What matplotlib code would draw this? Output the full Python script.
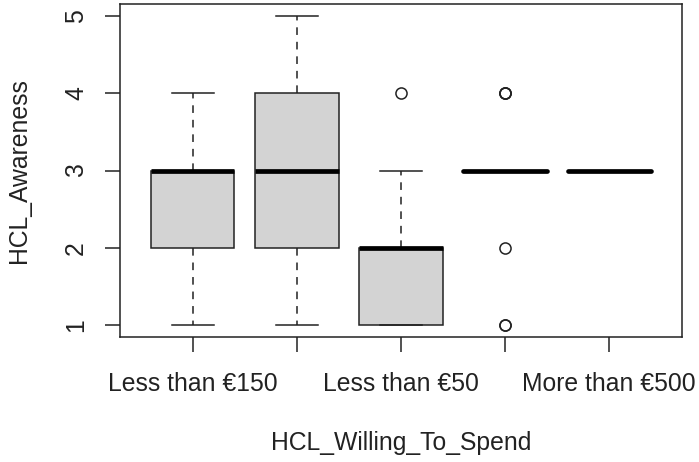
import matplotlib
matplotlib.use("Agg")
import matplotlib.pyplot as plt

plt.rcParams['font.family'] = ['Liberation Sans', 'DejaVu Sans']

# Spending groups (only every other label fits on the axis)
tick_labels = ["Less than €150", "", "Less than €50", "", "More than €500"]

# Five-number summaries per group
whisker_low = [1, 1, 1, 3, 3]
q1 = [2, 2, 1, 3, 3]
median = [3, 3, 2, 3, 3]
q3 = [3, 4, 2, 3, 3]
whisker_high = [4, 5, 3, 3, 3]
outliers = [[], [], [4], [4, 4, 4, 2, 1, 1], []]

stats = []
for i in range(len(median)):
    stats.append(dict(whislo=whisker_low[i], q1=q1[i], med=median[i],
                      q3=q3[i], whishi=whisker_high[i], fliers=outliers[i]))

fig = plt.figure(figsize=(6.99, 4.62), dpi=100)
ax = fig.add_axes([120 / 699, 1 - 337.4 / 462, 562 / 699, 333.8 / 462])

lw = 1.1
fs = 17.8
bp = ax.bxp(stats, positions=range(1, 6), widths=0.8, patch_artist=True,
            showfliers=True,
            boxprops=dict(facecolor='#D3D3D3', edgecolor='#222222', linewidth=lw),
            medianprops=dict(color='black', linewidth=3.4, solid_capstyle='butt'),
            whiskerprops=dict(color='#222222', linewidth=lw, linestyle=(0, (5, 4.5))),
            capprops=dict(color='#222222', linewidth=lw),
            capwidths=0.4,
            flierprops=dict(marker='o', markerfacecolor='none', markeredgecolor='#222222',
                            markersize=8, markeredgewidth=1.1, linestyle='none'))

# collapsed boxes show only the median, drawn with rounded ends
for line, lo, hi in zip(bp['medians'], q1, q3):
    if lo == hi:
        line.set_solid_capstyle('round')

ax.set_xlim(0.3, 5.7)
ax.set_ylim(0.84, 5.16)
ax.set_xticks(range(1, 6))
ax.set_xticklabels(tick_labels, fontsize=fs)
ax.set_yticks([1, 2, 3, 4, 5])
ax.set_yticklabels(["1", "2", "3", "4", "5"], fontsize=fs, rotation=90, va='center')

ax.tick_params(axis='both', length=11, width=lw, color='#222222', labelcolor='#222222')
ax.tick_params(axis='x', pad=14)
ax.tick_params(axis='y', pad=12)

for s in ax.spines.values():
    s.set_linewidth(lw)
    s.set_color('#222222')

ax.set_xlabel("HCL_Willing_To_Spend", fontsize=fs, color='#222222', labelpad=25)
ax.set_ylabel("HCL_Awareness", fontsize=fs, color='#222222', labelpad=24)

fig.savefig("out.png", dpi=100)
